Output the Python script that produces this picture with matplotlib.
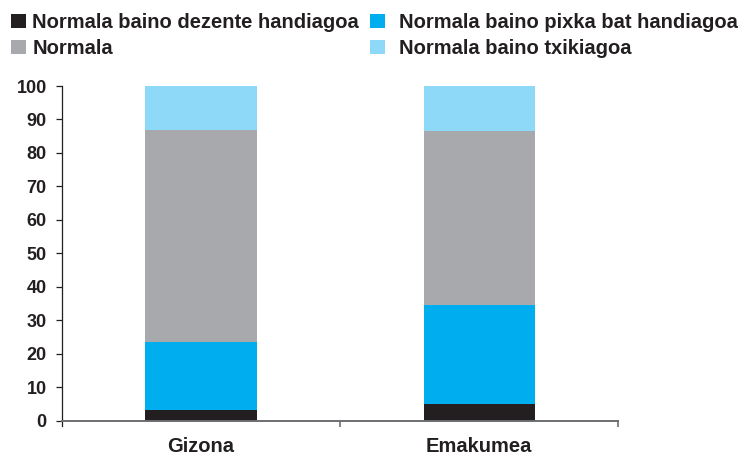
import matplotlib
matplotlib.use("Agg")
import matplotlib.pyplot as plt
from matplotlib.patches import Patch

categories = ["Gizona", "Emakumea"]
series_names = ["Normala baino dezente handiagoa", "Normala baino pixka bat handiagoa",
                "Normala", "Normala baino txikiagoa"]
dezente = [3.2, 5.1]
pixka = [20.3, 29.5]
normala = [63.4, 51.9]
txikiagoa = [13.1, 13.5]
yticks = [0, 10, 20, 30, 40, 50, 60, 70, 80, 90, 100]

colors = ["#231f20", "#00aeef", "#a7a9ac", "#8ed8f8"]
series = [dezente, pixka, normala, txikiagoa]

plt.rcParams['font.family'] = ['Liberation Sans', 'DejaVu Sans']
plt.rcParams['font.weight'] = 'bold'

fig = plt.figure(figsize=(7.39, 4.59), dpi=100)
ax = fig.add_axes([0.0839, 0.0717, 0.8366 - 0.0839, 0.8126 - 0.0717])

x = list(range(len(categories)))
bottoms = [0.0] * len(categories)
handles = []
for name, vals, c in zip(series_names, series, colors):
    ax.bar(x, vals, width=0.4, bottom=bottoms, color=c, linewidth=0)
    bottoms = [b + v for b, v in zip(bottoms, vals)]
    handles.append(Patch(facecolor=c, edgecolor='none', label=name))

ax.set_xlim(-0.5, 1.5)
ax.set_ylim(-1.6, 100)
ax.spines['top'].set_visible(False)
ax.spines['right'].set_visible(False)
ax.spines['bottom'].set_position(('data', 0))
ax.spines['bottom'].set_color('#6d6e71')
ax.spines['bottom'].set_linewidth(1.4)
ax.spines['left'].set_color('#231f20')
ax.spines['left'].set_linewidth(0.9)
ax.spines['left'].set_bounds(-1.6, 100)

ax.set_yticks(yticks)
ax.set_yticklabels([str(t) for t in yticks])
ax.tick_params(axis='y', direction='out', length=4, width=0.9, color='#231f20',
               labelsize=13, labelcolor='#231f20', pad=7)
ax.set_xticks(x)
ax.set_xticklabels(categories)
ax.tick_params(axis='x', which='major', length=0, labelsize=14.5, labelcolor='#231f20', pad=12)
ax.set_xticks([0.5, 1.5], minor=True)
ax.tick_params(axis='x', which='minor', direction='out', length=4, width=1.2, color='#6d6e71')
for lbl in ax.get_xticklabels() + ax.get_yticklabels():
    lbl.set_fontweight('bold')

common = dict(loc='upper left', ncol=1, frameon=False, fontsize=14.5,
              handlelength=0.75, handleheight=0.75, labelspacing=0.35,
              labelcolor='#231f20', borderpad=0, borderaxespad=0)
leg1 = fig.legend(handles=[handles[0], handles[2]], bbox_to_anchor=(0.0149, 1 - 13 / 459),
                  handletextpad=0.3, **common)
leg2 = fig.legend(handles=[handles[1], handles[3]], bbox_to_anchor=(0.5007, 1 - 13 / 459),
                  handletextpad=0.7, **common)

fig.savefig("out.png", dpi=100)
